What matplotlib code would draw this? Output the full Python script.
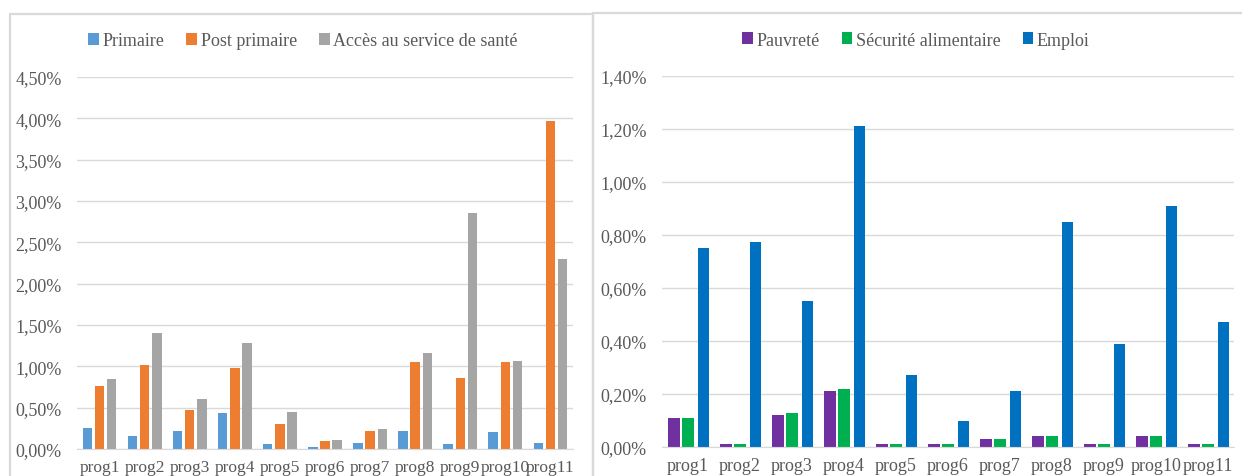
import numpy as np
import matplotlib
matplotlib.use("Agg")
from matplotlib import pyplot as plt
from matplotlib.patches import Rectangle
from matplotlib.ticker import FuncFormatter

# Donnees (en %)
progs = ["prog1", "prog2", "prog3", "prog4", "prog5", "prog6",
         "prog7", "prog8", "prog9", "prog10", "prog11"]

primaire = [0.26, 0.16, 0.22, 0.43, 0.06, 0.03, 0.07, 0.22, 0.06, 0.21, 0.07]
post_primaire = [0.76, 1.02, 0.47, 0.98, 0.30, 0.10, 0.22, 1.05, 0.86, 1.05, 3.97]
acces_sante = [0.85, 1.40, 0.61, 1.28, 0.45, 0.11, 0.24, 1.16, 2.85, 1.07, 2.30]

pauvrete = [0.11, 0.01, 0.12, 0.21, 0.01, 0.01, 0.03, 0.04, 0.01, 0.04, 0.01]
securite = [0.11, 0.01, 0.13, 0.22, 0.01, 0.01, 0.03, 0.04, 0.01, 0.04, 0.01]
emploi = [0.75, 0.775, 0.55, 1.21, 0.27, 0.10, 0.21, 0.85, 0.39, 0.91, 0.47]

plt.rcParams['font.family'] = ['Liberation Serif', 'DejaVu Serif']
GRIS = "#595959"
GRILLE = "#D9D9D9"

W, H = 1242, 477
fig = plt.figure(figsize=(W / 100, H / 100), dpi=100)


def px(x0, y0, x1, y1):
    # coordonnees pixels (origine en haut) -> fraction de figure
    return [x0 / W, 1 - y1 / H, (x1 - x0) / W, (y1 - y0) / H]


# cadres des deux panneaux
fig.patches.append(Rectangle((10 / W, -0.1), (593 - 10) / W, 1.1 - 15 / H,
                             transform=fig.transFigure, fill=False,
                             edgecolor=GRILLE, linewidth=1.6))
fig.patches.append(Rectangle((593 / W, -0.1), 1.1, 1.1 - 14 / H,
                             transform=fig.transFigure, fill=False,
                             edgecolor=GRILLE, linewidth=1.6))

fmt = FuncFormatter(lambda v, p: ("%.2f%%" % v).replace(".", ","))


def style(ax, ymax, step):
    ax.set_ylim(0, ymax)
    ax.set_yticks(np.arange(0, ymax + step / 2, step))
    ax.yaxis.set_major_formatter(fmt)
    ax.set_xlim(-0.5, len(progs) - 0.5)
    ax.set_xticks(range(len(progs)))
    ax.set_xticklabels(progs)
    ax.grid(axis="y", color=GRILLE, linewidth=1)
    ax.set_axisbelow(True)
    for s in ["top", "right", "left"]:
        ax.spines[s].set_visible(False)
    ax.spines["bottom"].set_color(GRILLE)
    ax.tick_params(length=0, colors=GRIS, labelsize=13)
    ax.tick_params(axis="y", pad=11)
    ax.tick_params(axis="x", pad=7)


x = np.arange(len(progs))

# Graphique de gauche
ax1 = fig.add_axes(px(77, 78, 573, 450))
b1 = ax1.bar(x - 0.27, primaire, 0.21, color="#5B9BD5", label="Primaire")
b2 = ax1.bar(x, post_primaire, 0.21, color="#ED7D31", label="Post primaire")
b3 = ax1.bar(x + 0.27, acces_sante, 0.21, color="#A5A5A5", label="Accès au service de santé")
style(ax1, 4.5, 0.5)
ax1.tick_params(axis="x", labelsize=12.5)
fig.legend(handles=[b1, b2, b3], loc="center", bbox_to_anchor=(303 / W, 1 - 42 / H),
           ncol=3, frameon=False, fontsize=13, labelcolor=GRIS,
           handlelength=0.6, handleheight=0.6, handletextpad=0.2, columnspacing=1.2)

# Graphique de droite
ax2 = fig.add_axes(px(662, 77, 1234, 448))
c1 = ax2.bar(x - 0.27, pauvrete, 0.22, color="#7030A0", label="Pauvreté")
c2 = ax2.bar(x, securite, 0.22, color="#00B050", label="Sécurité alimentaire")
c3 = ax2.bar(x + 0.3, emploi, 0.22, color="#0070C0", label="Emploi")
style(ax2, 1.4, 0.2)
fig.legend(handles=[c1, c2, c3], loc="center", bbox_to_anchor=(916 / W, 1 - 41 / H),
           ncol=3, frameon=False, fontsize=13, labelcolor=GRIS,
           handlelength=0.6, handleheight=0.6, handletextpad=0.2, columnspacing=1.2)

fig.savefig("out.png", dpi=100)
